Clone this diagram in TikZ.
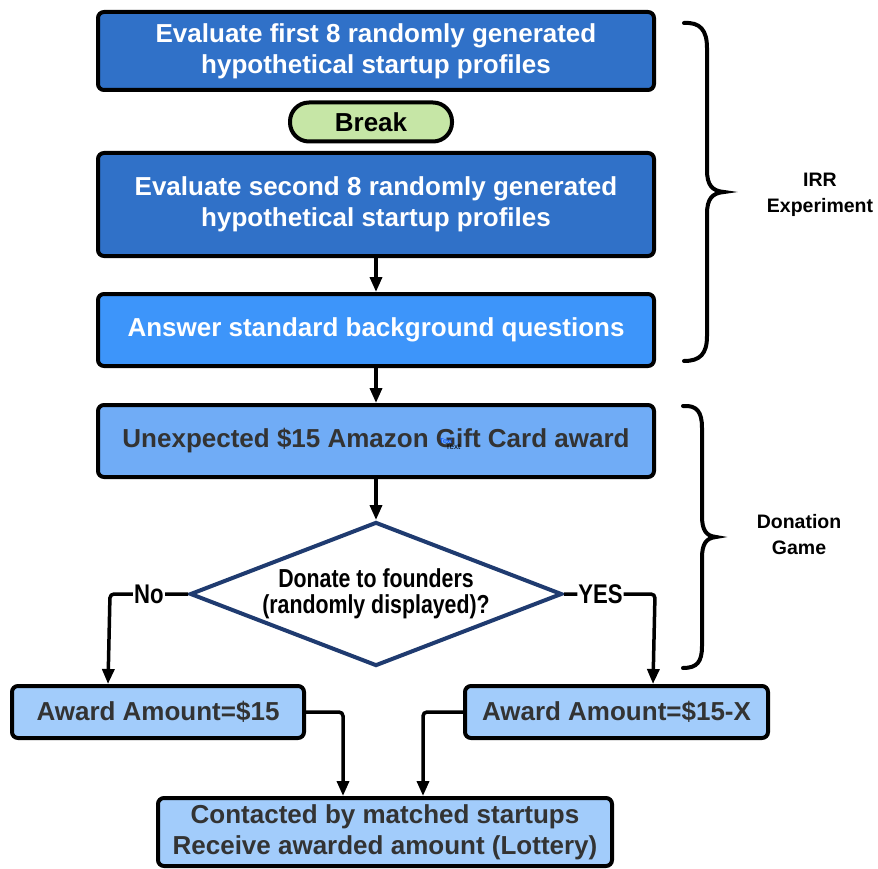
\documentclass[tikz,border=0pt]{standalone}
\usepackage{fontspec}
\setmainfont{Liberation Sans}
\newfontfamily\narrowfont{Liberation Sans}[FakeStretch=0.82]
\usetikzlibrary{arrows.meta,shapes.geometric,calc}
\definecolor{boxdark}{HTML}{3071C8}
\definecolor{boxmid}{HTML}{3D95FA}
\definecolor{boxlight}{HTML}{70ACF6}
\definecolor{boxpale}{HTML}{A2CCFB}
\definecolor{breakgreen}{HTML}{C6E6A6}
\definecolor{navy}{HTML}{1F3B70}
\definecolor{txtgray}{HTML}{333333}
\begin{document}
\begin{tikzpicture}[x=1pt,y=-1pt,
  box/.style={draw=black, line width=4pt, rounded corners=6pt, align=center, inner sep=0pt,
    font=\fontsize{26}{31}\selectfont\bfseries},
  darkbox/.style={box, fill=boxdark, text=white},
  arr/.style={line width=3.5pt, draw=black, -{Triangle[length=15pt,width=12pt]}},
  lbl/.style={fill=white, inner sep=1pt, font=\narrowfont\fontsize{27}{30}\selectfont\bfseries},
  bracepath/.style={line width=4pt, line cap=round, draw=black},
  sidelbl/.style={align=center, font=\fontsize{19.5}{26}\selectfont\bfseries}
]
\useasboundingbox (0,0) rectangle (878,869);

\node[darkbox, minimum width=556pt, minimum height=78pt] (b1) at (376,51)
  {Evaluate first 8 randomly generated\\hypothetical startup profiles};
\node[draw=black, line width=4pt, rounded corners=19pt, fill=breakgreen, minimum width=162pt,
  minimum height=39pt, inner sep=0pt, font=\fontsize{26}{31}\selectfont\bfseries] (brk) at (371,122) {Break};
\node[darkbox, minimum width=556pt, minimum height=103pt] (b2) at (376,204.5)
  {Evaluate second 8 randomly generated\\hypothetical startup profiles};
\node[box, fill=boxmid, text=white, minimum width=556pt, minimum height=72pt] (b3) at (376,330)
  {Answer standard background questions};
\node[box, fill=boxlight, text=txtgray, minimum width=556pt, minimum height=72pt] (b4) at (376,441)
  {Unexpected \$15 Amazon Gift Card award};
\node[text=blue!70!cyan, font=\fontsize{7}{7}\selectfont, inner sep=0pt] (tx1) at (446,441) {Text};
\node[text=black, font=\rmfamily\fontsize{8}{8}\selectfont, inner sep=0pt] (tx2) at (453,447) {Text};

\node[draw=navy, line width=4pt, fill=white, shape=diamond, aspect=2.58, minimum width=372pt, minimum height=144pt,
  inner sep=0pt, align=center, font=\narrowfont\fontsize{26}{26}\selectfont\bfseries] (dec) at (376,594)
  {Donate to founders\\(randomly displayed)?};

\node[box, fill=boxpale, text=txtgray, minimum width=292pt, minimum height=52pt] (b5) at (158,712)
  {Award Amount=\$15};
\node[box, fill=boxpale, text=txtgray, minimum width=303pt, minimum height=52pt] (b6) at (616.5,712)
  {Award Amount=\$15-X};
\node[box, fill=boxpale, text=txtgray, minimum width=454pt, minimum height=68pt] (b7) at (385,832)
  {Contacted by matched startups\\Receive awarded amount (Lottery)};

\draw[arr] (b2) -- (b3);
\draw[arr] (b3) -- (b4);
\draw[arr] (b4) -- (dec.north);

\coordinate (ncorner) at (110,594);
\coordinate (ycorner) at (655,594);
\draw[arr, rounded corners=4pt] (dec.west) -- node[lbl]{No} (ncorner) -- ($(b5.north west)+(98,0)$);
\draw[arr, rounded corners=4pt] (dec.east) -- node[lbl, pos=0.4]{YES} (ycorner) -- ($(b6.north west)+(190,0)$);
\draw[arr, rounded corners=4pt] (b5.east) -| ($(b7.north west)+(187,0)$);
\draw[arr, rounded corners=4pt] (b6.west) -| ($(b7.north west)+(267,0)$);

\draw[bracepath] (684,23) .. controls (700,22) and (707,30) .. (707,48) -- (707,170)
  .. controls (707,185) and (712,191) .. (724,192) .. controls (712,193) and (707,199) .. (707,214)
  -- (707,336) .. controls (707,354) and (700,361) .. (684,361);
\node[sidelbl] (irr) at (820,195) {IRR\\Experiment};

\draw[bracepath] (683,406) .. controls (697,405) and (702,412) .. (702,428) -- (702,516)
  .. controls (702,530) and (706,536) .. (716,537) .. controls (706,538) and (702,544) .. (702,558)
  -- (702,646) .. controls (702,662) and (697,668) .. (683,668);
\node[sidelbl] (don) at (799,535) {Donation\\Game};
\end{tikzpicture}
\end{document}
